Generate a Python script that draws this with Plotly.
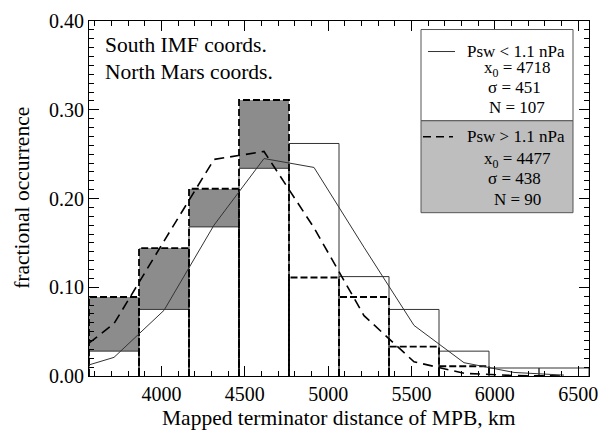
import plotly.graph_objects as go

# ---- data ----
bin_edges = [3565, 3865, 4165, 4465, 4765, 5065, 5365, 5665, 5965, 6265, 6565]
low_psw_frac = [0.028, 0.075, 0.168, 0.234, 0.262, 0.112, 0.075, 0.028, 0.009, 0.009]   # Psw < 1.1 nPa, N=107
high_psw_frac = [0.089, 0.144, 0.211, 0.311, 0.111, 0.089, 0.033, 0.011, 0.0, 0.0]     # Psw > 1.1 nPa, N=90
curve_x = [3415, 3715, 4015, 4315, 4615, 4915, 5215, 5515, 5815, 6115, 6415]
low_psw_fit = [0.004, 0.021, 0.074, 0.170, 0.245, 0.235, 0.145, 0.057, 0.015, 0.004, 0.001]
high_psw_fit = [0.015, 0.059, 0.152, 0.244, 0.253, 0.167, 0.068, 0.016, 0.003, 0.0005, 0.0]
x_ticks = [4000, 4500, 5000, 5500, 6000, 6500]
y_ticks = [0.0, 0.1, 0.2, 0.3, 0.4]

FONT = "Liberation Serif"
centers = [(a + b) / 2 for a, b in zip(bin_edges[:-1], bin_edges[1:])]
widths = [b - a for a, b in zip(bin_edges[:-1], bin_edges[1:])]


def outline(values):
    xs, ys = [], []
    for a, b, v in zip(bin_edges[:-1], bin_edges[1:], values):
        if v <= 0:
            continue
        xs += [a, a, b, b, None]
        ys += [0, v, v, 0, None]
    return xs, ys


fig = go.Figure()
fig.add_trace(go.Bar(x=centers, y=high_psw_frac, width=widths,
                     marker=dict(color="#8c8c8c", line=dict(width=0))))
fig.add_trace(go.Bar(x=centers, y=low_psw_frac, width=widths,
                     marker=dict(color="white", line=dict(width=0))))
ox, oy = outline(low_psw_frac)
fig.add_trace(go.Scatter(x=ox, y=oy, mode="lines",
                         line=dict(color="#333333", width=1)))
ox, oy = outline(high_psw_frac)
fig.add_trace(go.Scatter(x=ox, y=oy, mode="lines",
                         line=dict(color="black", width=1.8, dash="7px,3px")))
fig.add_trace(go.Scatter(x=curve_x, y=low_psw_fit, mode="lines",
                         line=dict(color="#333333", width=1)))
fig.add_trace(go.Scatter(x=curve_x, y=high_psw_fit, mode="lines",
                         line=dict(color="black", width=1.6, dash="10px,6px")))

# legend box
shapes = [
    dict(type="rect", xref="paper", yref="paper", x0=0.664, x1=0.968, y0=0.719, y1=0.976,
         fillcolor="white", line=dict(color="#555555", width=1)),
    dict(type="rect", xref="paper", yref="paper", x0=0.664, x1=0.968, y0=0.460, y1=0.719,
         fillcolor="#bebebe", line=dict(color="#555555", width=1)),
    dict(type="line", xref="paper", yref="paper", x0=0.678, x1=0.732, y0=0.914, y1=0.914,
         line=dict(color="#333333", width=1)),
    dict(type="line", xref="paper", yref="paper", x0=0.668, x1=0.728, y0=0.674, y1=0.674,
         line=dict(color="black", width=1.6, dash="8px,5px")),
]

ann = []
def txt(s, x, y, size=17, xanchor="center", textangle=0):
    ann.append(dict(text=s, x=x, y=y, xref="paper", yref="paper", showarrow=False,
                    xanchor=xanchor, yanchor="middle", textangle=textangle,
                    font=dict(family=FONT, size=size, color="black")))

txt("Psw &lt; 1.1 nPa", 0.752, 0.914, xanchor="left")
txt("x<sub>0</sub> = 4718", 0.856, 0.866)
txt("σ = 451", 0.850, 0.812)
txt("N = 107", 0.856, 0.756)
txt("Psw &gt; 1.1 nPa", 0.752, 0.674, xanchor="left")
txt("x<sub>0</sub> = 4477", 0.856, 0.609)
txt("σ = 438", 0.850, 0.556)
txt("N = 90", 0.856, 0.496)
txt("South IMF coords.", 0.028, 0.931, size=21.5, xanchor="left")
txt("North Mars coords.", 0.028, 0.855, size=21.5, xanchor="left")
# axis titles
txt("Mapped terminator distance of MPB, km", 0.5, -0.118, size=21.5)
txt("fractional occurrence", -0.134, 0.502, size=21.5, textangle=-90)

# the page body adds an 8px offset, so the figure is 8px smaller than the window
fig.update_layout(
    width=603, height=424,
    margin=dict(l=81, r=22, t=13, b=56, autoexpand=False),
    paper_bgcolor="white", plot_bgcolor="white",
    barmode="overlay", bargap=0, showlegend=False,
    shapes=shapes, annotations=ann,
    font=dict(family=FONT, color="black"),
)
fig.update_xaxes(
    range=[bin_edges[0], bin_edges[-1]], tickvals=x_ticks, ticktext=[str(v) for v in x_ticks],
    ticks="inside", ticklen=10, tickwidth=1, tickcolor="black",
    minor=dict(dtick=100, tick0=4000, ticks="inside", ticklen=5, tickcolor="black"),
    showline=True, linecolor="black", linewidth=1, mirror="allticks",
    showgrid=False, zeroline=False, automargin=False,
    tickfont=dict(family=FONT, size=20),
)
fig.update_yaxes(
    range=[0, 0.40], tickvals=y_ticks, ticktext=["%.2f" % v for v in y_ticks],
    ticks="inside", ticklen=10, tickwidth=1, tickcolor="black",
    minor=dict(dtick=0.01, tick0=0, ticks="inside", ticklen=5, tickcolor="black"),
    showline=True, linecolor="black", linewidth=1, mirror="allticks",
    showgrid=False, zeroline=False, automargin=False,
    tickfont=dict(family=FONT, size=20),
)

fig.write_html("out.html")
